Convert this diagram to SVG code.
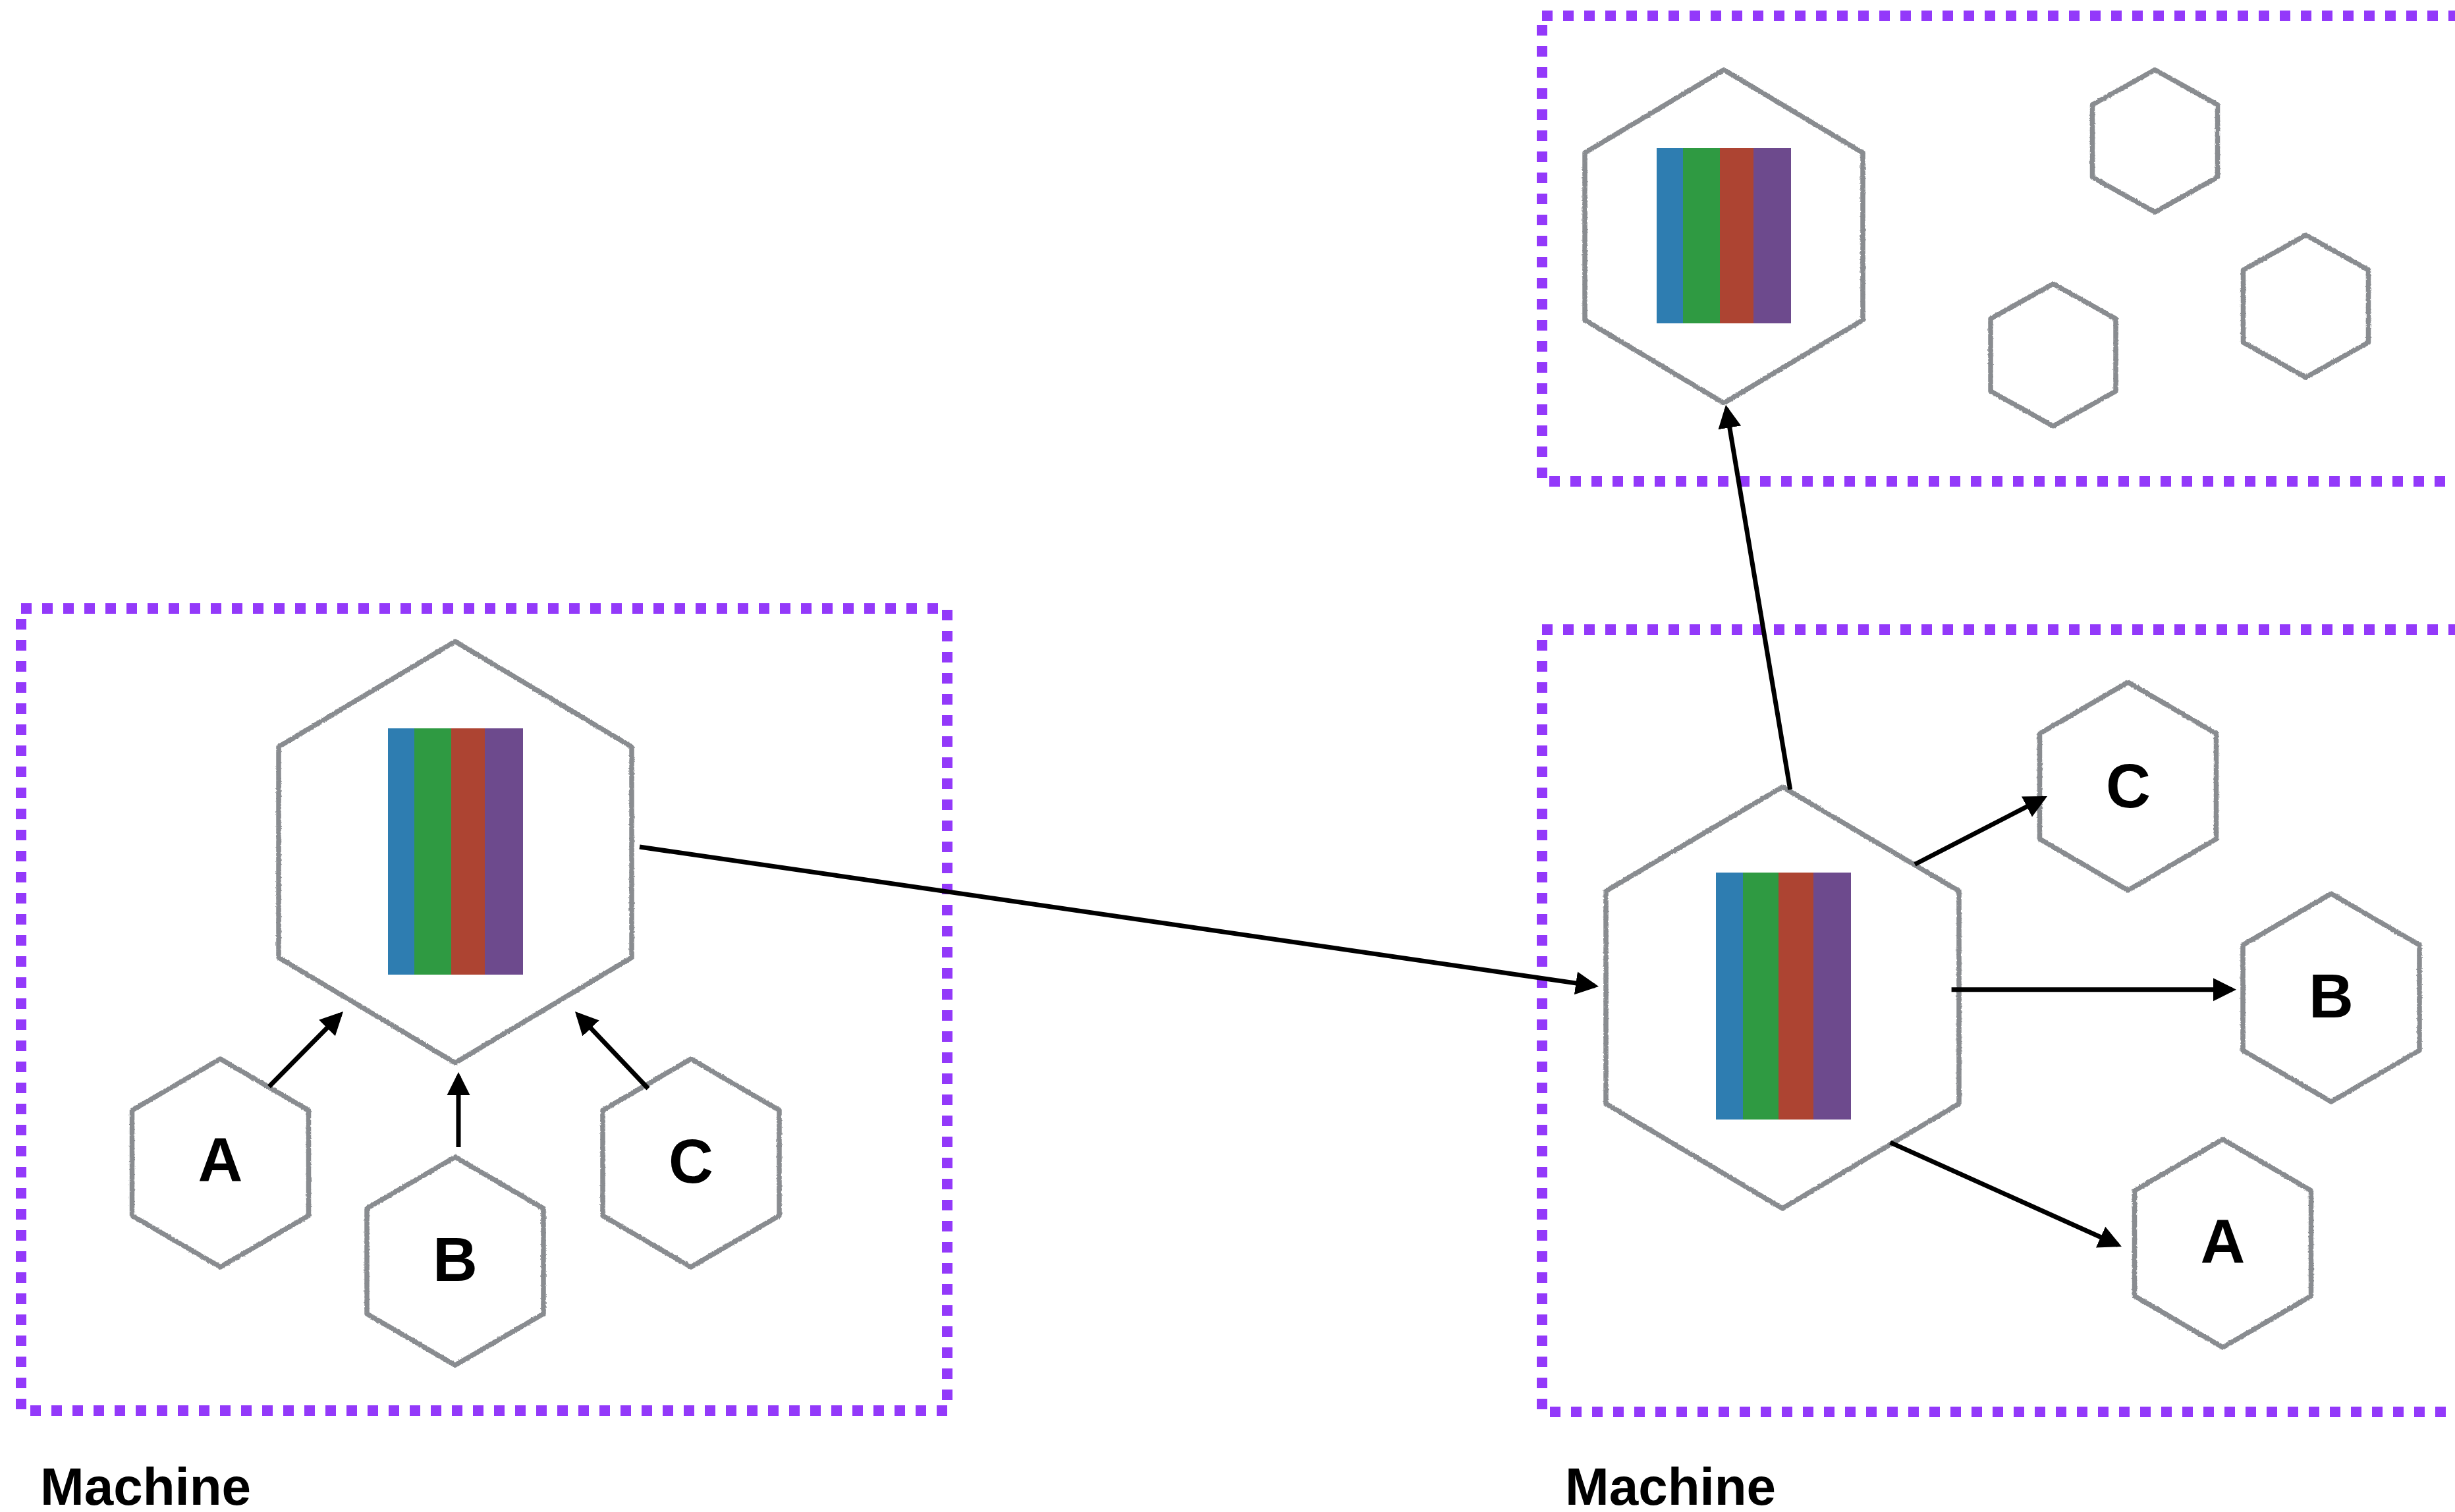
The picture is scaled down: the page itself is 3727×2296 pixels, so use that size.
<svg xmlns="http://www.w3.org/2000/svg" width="3727" height="2296" viewBox="0 0 3727 2296">
  <style>
    .box { fill: none; stroke: #9339FA; stroke-width: 16; stroke-dasharray: 16 16; }
    .hex { fill: #FFFFFF; stroke: #898C90; stroke-width: 7.5; stroke-linejoin: round; filter: url(#rough); }
    .lbl { font-family: "Liberation Sans", Arial, Helvetica, sans-serif; font-weight: bold; font-size: 94px; fill: #000000; text-anchor: middle; }
    .title { font-family: "Liberation Sans", Arial, Helvetica, sans-serif; font-weight: bold; font-size: 80px; fill: #000000; }
    .edge { fill: none; stroke: #000000; stroke-width: 7; marker-end: url(#arrow); }
    .b1 { fill: #2E7DB1; } .b2 { fill: #2F9A42; } .b3 { fill: #AD4432; } .b4 { fill: #6D4A8D; }
  </style>
  <defs>
    <filter id="rough" x="-5%" y="-5%" width="110%" height="110%">
      <feTurbulence type="fractalNoise" baseFrequency="0.35" numOctaves="2" seed="3" result="n"/>
      <feDisplacementMap in="SourceGraphic" in2="n" scale="3" xChannelSelector="R" yChannelSelector="G"/>
    </filter>
    <marker id="arrow" markerUnits="userSpaceOnUse" markerWidth="36" markerHeight="36" viewBox="0 0 36 36" refX="29" refY="18" orient="auto">
      <path d="M0,0.5 L35,18 L0,35.5 Z" fill="#000000"/>
    </marker>
  </defs>

  <rect width="3727" height="2296" fill="#FFFFFF"/>

  <g id="machine-left">
    <rect class="box" x="32" y="924" width="1406" height="1218"/>
    <text class="title" x="61" y="2285">Machine</text>
  </g>
  <g id="machine-right-top">
    <rect class="box" x="2341" y="24" width="1500" height="707"/>
  </g>
  <g id="machine-right">
    <rect class="box" x="2341" y="956" width="1500" height="1188"/>
    <text class="title" x="2376" y="2285">Machine</text>
  </g>

  <g id="left-main">
    <path class="hex" d="M691,974 L959,1134 L959,1454 L691,1614 L423,1454 L423,1134 Z"/>
    <rect class="b1" x="589" y="1106" width="40" height="374"/>
    <rect class="b2" x="629" y="1106" width="56" height="374"/>
    <rect class="b3" x="685" y="1106" width="51" height="374"/>
    <rect class="b4" x="736" y="1106" width="58" height="374"/>
  </g>
  <g id="left-a">
    <path class="hex" d="M334.5,1608 L468.5,1686 L468.5,1846 L334.5,1924 L200.5,1846 L200.5,1686 Z"/>
    <text class="lbl" x="334.5" y="1794">A</text>
  </g>
  <g id="left-b">
    <path class="hex" d="M691,1757 L825,1835 L825,1995 L691,2073 L557,1995 L557,1835 Z"/>
    <text class="lbl" x="691" y="1945">B</text>
  </g>
  <g id="left-c">
    <path class="hex" d="M1049,1608 L1183,1686 L1183,1846 L1049,1924 L915,1846 L915,1686 Z"/>
    <text class="lbl" x="1049" y="1796">C</text>
  </g>

  <g id="top-main">
    <path class="hex" d="M2617,106 L2828,232 L2828,486 L2617,612 L2406,486 L2406,232 Z"/>
    <rect class="b1" x="2515" y="225" width="40" height="266"/>
    <rect class="b2" x="2555" y="225" width="56" height="266"/>
    <rect class="b3" x="2611" y="225" width="51" height="266"/>
    <rect class="b4" x="2662" y="225" width="57" height="266"/>
  </g>
  <g id="top-hex-1">
    <path class="hex" d="M3271.5,106 L3366.5,159 L3366.5,269 L3271.5,322 L3176.5,269 L3176.5,159 Z"/>
  </g>
  <g id="top-hex-2">
    <path class="hex" d="M3117,431 L3212,484 L3212,594 L3117,647 L3022,594 L3022,484 Z"/>
  </g>
  <g id="top-hex-3">
    <path class="hex" d="M3500.5,357 L3595.5,410 L3595.5,520 L3500.5,573 L3405.5,520 L3405.5,410 Z"/>
  </g>

  <g id="right-main">
    <path class="hex" d="M2706,1195 L2974,1353 L2974,1676 L2706,1835 L2438,1676 L2438,1353 Z"/>
    <rect class="b1" x="2605" y="1325" width="41" height="375"/>
    <rect class="b2" x="2646" y="1325" width="54" height="375"/>
    <rect class="b3" x="2700" y="1325" width="53" height="375"/>
    <rect class="b4" x="2753" y="1325" width="57" height="375"/>
  </g>
  <g id="right-c">
    <path class="hex" d="M3230.5,1036 L3364.5,1114 L3364.5,1274 L3230.5,1352 L3096.5,1274 L3096.5,1114 Z"/>
    <text class="lbl" x="3231" y="1226">C</text>
  </g>
  <g id="right-b">
    <path class="hex" d="M3539,1357 L3673,1435 L3673,1595 L3539,1673 L3405,1595 L3405,1435 Z"/>
    <text class="lbl" x="3539" y="1545">B</text>
  </g>
  <g id="right-a">
    <path class="hex" d="M3374.5,1730 L3508.5,1808 L3508.5,1968 L3374.5,2046 L3240.5,1968 L3240.5,1808 Z"/>
    <text class="lbl" x="3374.5" y="1918">A</text>
  </g>

  <g id="connectors">
    <line class="edge" x1="408.5" y1="1650" x2="516.8" y2="1540.3"/>
    <line class="edge" x1="696" y1="1742" x2="696" y2="1634"/>
    <line class="edge" x1="984" y1="1653" x2="877.1" y2="1540.4"/>
    <line class="edge" x1="971" y1="1286" x2="2421.1" y2="1497.1"/>
    <line class="edge" x1="2717.7" y1="1199" x2="2621" y2="620.7"/>
    <line class="edge" x1="2907" y1="1312.5" x2="3102.7" y2="1211.7"/>
    <line class="edge" x1="2962.6" y1="1502.7" x2="3389" y2="1502.7"/>
    <line class="edge" x1="2869.7" y1="1734.9" x2="3215.5" y2="1890.5"/>
  </g>
</svg>
